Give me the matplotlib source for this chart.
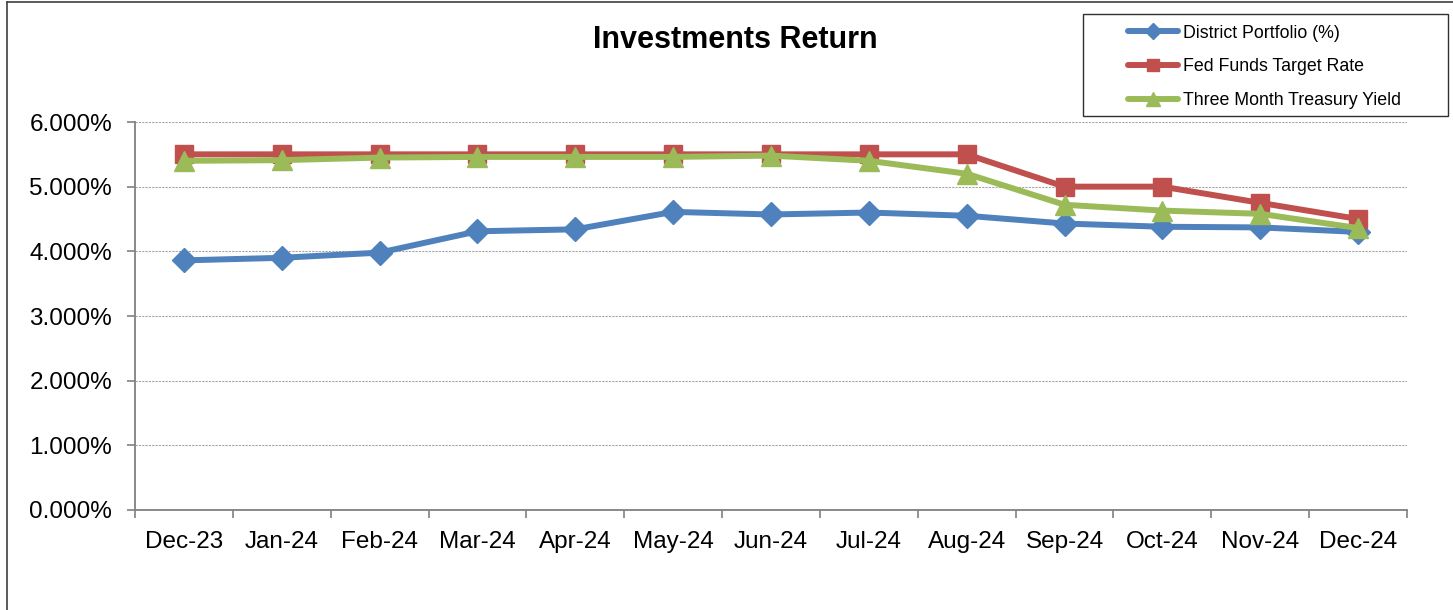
import matplotlib
matplotlib.use("Agg")
import matplotlib.pyplot as plt
from matplotlib.lines import Line2D
from matplotlib.patches import Rectangle
from matplotlib.ticker import FuncFormatter, FixedLocator

plt.rcParams['font.family'] = ['Liberation Sans', 'DejaVu Sans']

months = ["Dec-23", "Jan-24", "Feb-24", "Mar-24", "Apr-24", "May-24", "Jun-24",
          "Jul-24", "Aug-24", "Sep-24", "Oct-24", "Nov-24", "Dec-24"]
district = [3.86, 3.90, 3.98, 4.31, 4.34, 4.61, 4.57, 4.60, 4.55, 4.43, 4.38, 4.37, 4.30]
fed_funds = [5.50, 5.50, 5.50, 5.50, 5.50, 5.50, 5.50, 5.50, 5.50, 5.00, 5.00, 4.75, 4.50]
treasury = [5.40, 5.41, 5.45, 5.46, 5.46, 5.46, 5.48, 5.40, 5.20, 4.72, 4.63, 4.58, 4.36]
y_ticks = [0, 1, 2, 3, 4, 5, 6]

W, H = 1453, 610
fig = plt.figure(figsize=(W / 100, H / 100), dpi=100)
fig.patch.set_facecolor('white')

def fx(px):
    return px / W

def fy(py):
    return 1 - py / H

ax = fig.add_axes([fx(135), fy(510), fx(1407) - fx(135), fy(122) - fy(510)])

x = list(range(len(months)))
blue, red, green = '#4F81BD', '#C0504D', '#9BBB59'
ax.plot(x, district, color=blue, lw=4.3, marker='D', ms=12, zorder=3,
        label='District Portfolio (%)', solid_capstyle='round')
ax.plot(x, fed_funds, color=red, lw=4.3, marker='s', ms=13, zorder=4,
        label='Fed Funds Target Rate', solid_capstyle='round')
ax.plot(x, treasury, color=green, lw=4.3, marker='^', ms=14, zorder=5,
        label='Three Month Treasury Yield', solid_capstyle='round')

ax.set_xlim(-0.5, len(months) - 0.5)
ax.set_ylim(0, 6)
ax.set_yticks(y_ticks)
ax.yaxis.set_major_formatter(FuncFormatter(lambda v, p: f"{v:.3f}%"))
ax.yaxis.grid(True, color='#a6a6a6', linestyle=(0, (2, 1)), linewidth=0.8)
ax.set_axisbelow(True)

ax.xaxis.set_major_locator(FixedLocator([i - 0.5 for i in range(len(months) + 1)]))
ax.xaxis.set_minor_locator(FixedLocator(x))
ax.set_xticklabels([], minor=False)
ax.set_xticklabels(months, minor=True)
ax.tick_params(axis='x', which='major', length=6, width=1.2, color='#808080', direction='out')
ax.tick_params(axis='x', which='minor', length=0, pad=15, labelsize=17.5)
ax.tick_params(axis='y', length=6, width=1.2, color='#808080', direction='out', pad=10.5, labelsize=17.5)

for s in ['top', 'right']:
    ax.spines[s].set_visible(False)
for s in ['left', 'bottom']:
    ax.spines[s].set_color('#808080')
    ax.spines[s].set_linewidth(1.3)

fig.text(fx(735), fy(40), "Investments Return", ha='center', va='center',
         fontsize=22, fontweight='bold')

# Outer chart frame (left and top edges)
fig.add_artist(Line2D([fx(7), fx(7)], [fy(2), 0], color='#404040', lw=1.2, transform=fig.transFigure))
fig.add_artist(Line2D([fx(7), 1], [fy(2), fy(2)], color='#404040', lw=1.2, transform=fig.transFigure))

# Legend box
fig.add_artist(Rectangle((fx(1083), fy(116)), fx(1448) - fx(1083), fy(14) - fy(116),
                         transform=fig.transFigure, fill=False, edgecolor='#303030', lw=1.0))
handles, labels = ax.get_legend_handles_labels()
leg_handles = [Line2D([0], [0], color=h.get_color(), lw=4.3, marker=h.get_marker(),
                      ms=h.get_markersize() * 0.7, solid_capstyle='round') for h in handles]
fig.legend(leg_handles, labels, loc='upper left', bbox_to_anchor=(fx(1128), fy(24.5)),
           frameon=False, fontsize=12.8, handlelength=2.8, handletextpad=0.3,
           labelspacing=0.95, borderpad=0, borderaxespad=0)

fig.savefig("out.png", dpi=100)
